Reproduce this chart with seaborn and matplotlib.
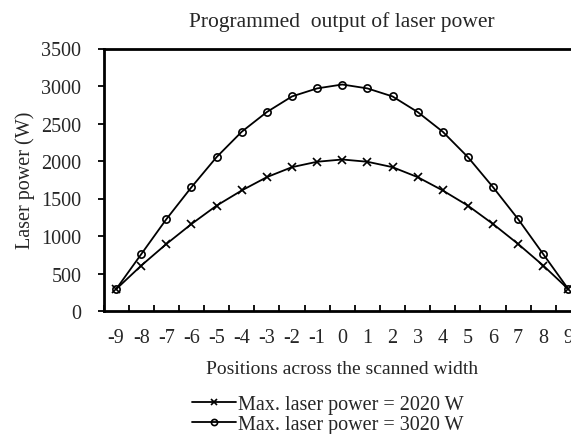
import numpy as np
import pandas as pd
import matplotlib
matplotlib.use("Agg")
import matplotlib.pyplot as plt
import seaborn as sns

# Positions across the scanned width
positions = [-9, -8, -7, -6, -5, -4, -3, -2, -1, 0, 1, 2, 3, 4, 5, 6, 7, 8, 9]

# Programmed laser power (W) at each position
power_2020 = [290, 605, 893, 1160, 1405, 1607, 1785, 1918, 1990, 2020,
              1990, 1918, 1785, 1607, 1405, 1160, 893, 605, 290]
power_3020 = [290, 757, 1224, 1651, 2052, 2390, 2653, 2861, 2968, 3020,
              2968, 2861, 2653, 2390, 2052, 1651, 1224, 757, 290]

series_labels = ["Max. laser power = 2020 W", "Max. laser power = 3020 W"]
series_markers = ["x", "o"]
y_ticks = [0, 500, 1000, 1500, 2000, 2500, 3000, 3500]

sns.set_style("white")
plt.rcParams["font.family"] = ["Liberation Serif", "DejaVu Serif"]
FS = 14.5

fig = plt.figure(figsize=(5.71, 4.35), dpi=100)
ax = fig.add_axes([103.5 / 571, 1 - 312 / 435, (581 - 103.5) / 571, (312 - 49.5) / 435])

for values, label, marker in zip([power_2020, power_3020], series_labels, series_markers):
    frame = pd.DataFrame({"pos": positions, "power": values})
    sns.lineplot(data=frame, x="pos", y="power", color="black", linewidth=1.3,
                 marker=marker, markersize=5.2, markeredgewidth=1.2,
                 markerfacecolor="none", markeredgecolor="black",
                 label=label, ax=ax)

ax.set_xlim(-9.5, 9.5)
ax.set_ylim(0, 3500)
ax.set_yticks(y_ticks)
ax.set_yticklabels([str(v) for v in y_ticks], fontsize=FS)
ax.set_xticks(positions)
ax.set_xticklabels([str(v) for v in positions], fontsize=FS)
ax.set_xticks(np.arange(-9.5, 10.0, 1.0), minor=True)
ax.tick_params(axis="x", which="major", length=0, pad=12.5)
ax.tick_params(axis="x", which="minor", direction="in", length=4, width=1.3,
               color="black", bottom=True)
ax.tick_params(axis="y", which="major", direction="out", length=4.5, width=1.3,
               color="black", left=True, pad=11.5)

for side in ["left", "bottom", "top"]:
    ax.spines[side].set_visible(True)
    ax.spines[side].set_color("black")
    ax.spines[side].set_linewidth(2)
ax.spines["right"].set_visible(False)

ax.set_xlabel("Positions across the scanned width", fontsize=14, labelpad=9)
ax.set_ylabel("Laser power (W)", fontsize=FS, labelpad=4.5)
ax.set_title("Programmed  output of laser power", fontsize=15.5, pad=16)

handles, labels = ax.get_legend_handles_labels()
ax.legend(handles, labels, loc="center left", bbox_to_anchor=(191.5 / 571, 1 - 415.5 / 435),
          bbox_transform=fig.transFigure, frameon=False, fontsize=FS,
          handlelength=2.2, handletextpad=0.12, labelspacing=0.05, markerscale=0.85,
          borderpad=0, borderaxespad=0)

fig.savefig("out.png", dpi=100)
